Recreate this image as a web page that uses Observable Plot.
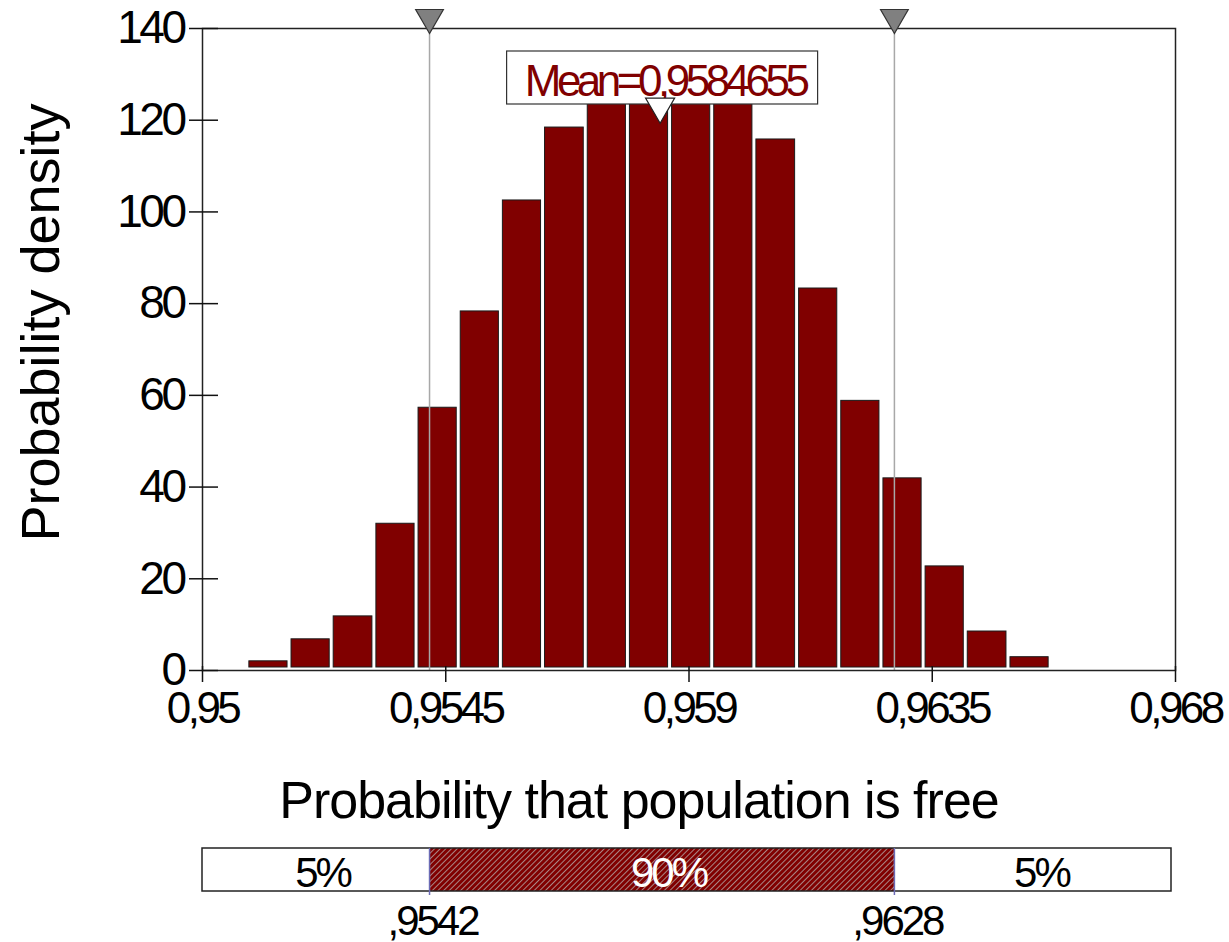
<!DOCTYPE html>
<html>
<head>
<meta charset="utf-8">
<script src="https://cdn.jsdelivr.net/npm/d3@7"></script>
<script src="https://cdn.jsdelivr.net/npm/@observablehq/plot@0.6"></script>
<style>
  html, body { margin: 0; padding: 0; background: #fff; }
  #chart svg { display: block; }
</style>
</head>
<body>
<svg width="0" height="0" style="position:absolute">
  <defs>
    <pattern id="hatch" patternUnits="userSpaceOnUse" width="4" height="4" patternTransform="rotate(45)">
      <rect width="4" height="4" fill="#800000"></rect>
      <line x1="0.5" y1="0" x2="0.5" y2="4" stroke="#a98585" stroke-width="1"></line>
    </pattern>
  </defs>
</svg>
<div id="chart"></div>
<script>
// ---- data ----
const xDomain = [0.95, 0.968];
const xTicks = [0.95, 0.9545, 0.959, 0.9635, 0.968];
const yDomain = [0, 140];
const yTicks = [0, 20, 40, 60, 80, 100, 120, 140];
const binEdges = [0.95083, 0.95161, 0.95239, 0.95318, 0.95396, 0.95474, 0.95552, 0.95630, 0.95709, 0.95787,
                  0.95865, 0.95943, 0.96021, 0.96100, 0.96178, 0.96256, 0.96334, 0.96412, 0.96491, 0.96569];
const density = [2.0, 6.8, 11.8, 32.0, 57.3, 78.3, 102.5, 118.4, 129, 134,
                 134, 131, 115.8, 83.3, 58.8, 41.9, 22.7, 8.5, 2.9];
const meanValue = 0.9584655;
const markers = [0.9542, 0.9628];
const bandEdges = [0.95, 0.9542, 0.9628, 0.968];
const bandLabels = ["5%", "90%", "5%"];
const bandHatched = [false, true, false];
const yTitle = "Probability density";
const xTitle = "Probability that population is free";

const bins = density.map((y, i) => ({x1: binEdges[i], x2: binEdges[i + 1], y}));
const segs = bandLabels.map((label, i) => ({x1: bandEdges[i], x2: bandEdges[i + 1], label, hatched: bandHatched[i]}));

const fmt = d => String(d).replace(".", ",");
const fmtShort = d => String(d).replace("0.", ",");

const triDown = {
  draw(ctx, size) {
    const y = Math.sqrt(size / (Math.sqrt(3) * 3));
    ctx.moveTo(0, 2 * y);
    ctx.lineTo(-Math.sqrt(3) * y, -y);
    ctx.lineTo(Math.sqrt(3) * y, -y);
    ctx.closePath();
  }
};

const font = "'Liberation Sans', Arial, sans-serif";
const dark = "#800000";

const main = Plot.plot({
  width: 1229,
  height: 830,
  marginLeft: 202,
  marginRight: 54,
  marginTop: 28,
  marginBottom: 160,
  style: {fontFamily: font, fontSize: "44px", color: "#000", background: "#fff", overflow: "visible"},
  x: {domain: xDomain},
  y: {domain: yDomain},
  marks: [
    Plot.rect(bins, {x1: "x1", x2: "x2", y1: 0, y2: "y", fill: dark, stroke: "#1a1a1a", strokeWidth: 1,
      insetLeft: 2, insetRight: 2, insetBottom: 3}),
    Plot.ruleX(markers, {x: d => d, stroke: "#a8a8a8", strokeWidth: 1.5}),
    Plot.frame({stroke: "#222", strokeWidth: 1.5}),
    Plot.ruleY(yTicks, {y: d => d, x1: xDomain[0], x2: xDomain[0], insetLeft: -13, insetRight: -16, stroke: "#111", strokeWidth: 1.5}),
    Plot.ruleX(xTicks, {x: d => d, y1: 0, y2: 0, insetTop: 12, insetBottom: 4, stroke: "#111", strokeWidth: 1.5}),
    Plot.axisY({ticks: yTicks, tickSize: 0, tickPadding: 19, label: null, fontSize: 46}),
    Plot.axisX({ticks: xTicks, tickFormat: fmt, tickSize: 0, tickPadding: 21, label: null, fontSize: 44}),
    Plot.rect([meanValue], {x1: d => d, x2: d => d, fill: "white", stroke: "#333", strokeWidth: 1.2,
      insetLeft: -153, insetRight: -158, insetTop: 23, insetBottom: 566}),
    Plot.text([meanValue], {x: d => d, text: d => "Mean=" + fmt(d), frameAnchor: "top", lineAnchor: "middle",
      textAnchor: "middle", dy: 53, dx: 5, fill: dark, fontSize: 44}),
    Plot.dot([meanValue], {x: d => d, frameAnchor: "top", dy: 78, symbol: triDown, r: 10.8,
      fill: "white", stroke: "#222", strokeWidth: 1.2}),
    Plot.dot(markers, {x: d => d, frameAnchor: "top", dy: -11, symbol: triDown, r: 10.3,
      fill: "#808080", stroke: "#333", strokeWidth: 1.2}),
    Plot.text([yTitle], {text: d => d, frameAnchor: "left", textAnchor: "middle", lineAnchor: "middle",
      rotate: -90, dx: -161, dy: -27, fontSize: 54, fill: "#000"}),
    Plot.text([xTitle], {text: d => d, frameAnchor: "bottom", textAnchor: "middle", lineAnchor: "middle",
      dy: 131, dx: -50, fontSize: 52, fill: "#000"})
  ]
});

const band = Plot.plot({
  width: 1229,
  height: 112,
  marginLeft: 202,
  marginRight: 54,
  marginTop: 18,
  marginBottom: 51,
  style: {fontFamily: font, fontSize: "42px", color: "#000", background: "#fff", overflow: "visible"},
  x: {domain: xDomain, axis: null},
  marks: [
    Plot.rect(segs, {filter: d => !d.hatched, x1: "x1", x2: "x2", fill: "white"}),
    Plot.rect(segs, {filter: d => d.hatched, x1: "x1", x2: "x2", fill: "url(#hatch)"}),
    Plot.rect([bandEdges], {x1: d => d[0], x2: d => d[d.length - 1], fill: "none", stroke: "#222", strokeWidth: 1.5, insetRight: 4}),
    Plot.ruleX(markers, {x: d => d, stroke: "#6b6bb5", strokeWidth: 1.5, insetBottom: -4}),
    Plot.text(segs, {filter: d => !d.hatched, x: d => (d.x1 + d.x2) / 2, text: "label", frameAnchor: "middle",
      lineAnchor: "middle", dy: 4, dx: 6.5, fill: "#000", fontSize: 42}),
    Plot.text(segs, {filter: d => d.hatched, x: d => (d.x1 + d.x2) / 2, text: "label", frameAnchor: "middle",
      lineAnchor: "middle", dy: 4, dx: 6.5, fill: "#fff", fontSize: 42}),
    Plot.text(markers, {x: d => d, text: d => fmtShort(d), frameAnchor: "bottom", lineAnchor: "top",
      textAnchor: "middle", dy: 14, dx: 3, fill: "#000", fontSize: 42})
  ]
});

const chart = document.getElementById("chart");
chart.appendChild(main);
chart.appendChild(band);

// tight letter spacing as in the reference
const tickSet = new Set(xTicks.map(fmt).concat(yTicks.map(String)));
document.querySelectorAll("#chart text").forEach(t => {
  const s = t.textContent;
  let ls = null;
  if (s.startsWith("Mean")) ls = "-4.5px";
  else if (tickSet.has(s)) ls = "-3.5px";
  else if (s === xTitle) ls = "-1px";
  else if (s.endsWith("%") || s.startsWith(",")) ls = "-3px";
  if (ls) t.style.letterSpacing = ls;
});
</script>
</body>
</html>
